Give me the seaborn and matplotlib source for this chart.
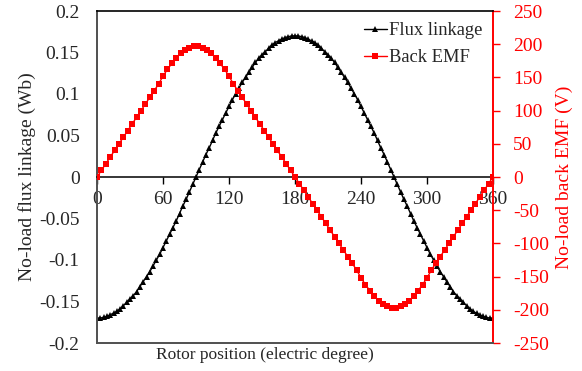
import matplotlib
matplotlib.use("Agg")
import matplotlib.pyplot as plt
import seaborn as sns
from matplotlib.ticker import FixedLocator, FuncFormatter
from matplotlib.lines import Line2D

# Rotor position samples (electric degrees)
flux_angle = list(range(0, 361, 3))
emf_angle = list(range(0, 361, 4))

# No-load flux linkage (Wb), sampled every 3 degrees
flux_linkage = [
    -0.170, -0.170, -0.169, -0.168, -0.166, -0.164, -0.162, -0.159, -0.155, -0.151,
    -0.147, -0.143, -0.138, -0.132, -0.126, -0.120, -0.114, -0.107, -0.100, -0.093,
    -0.085, -0.077, -0.069, -0.061, -0.053, -0.044, -0.035, -0.027, -0.018, -0.009,
    0.000, 0.009, 0.018, 0.027, 0.035, 0.044, 0.053, 0.061, 0.069, 0.077,
    0.085, 0.093, 0.100, 0.107, 0.114, 0.120, 0.126, 0.132, 0.138, 0.143,
    0.147, 0.151, 0.155, 0.159, 0.162, 0.164, 0.166, 0.168, 0.169, 0.170,
    0.170, 0.170, 0.169, 0.168, 0.166, 0.164, 0.162, 0.159, 0.155, 0.151,
    0.147, 0.143, 0.138, 0.132, 0.126, 0.120, 0.114, 0.107, 0.100, 0.093,
    0.085, 0.077, 0.069, 0.061, 0.053, 0.044, 0.035, 0.027, 0.018, 0.009,
    0.000, -0.009, -0.018, -0.027, -0.035, -0.044, -0.053, -0.061, -0.069, -0.077,
    -0.085, -0.093, -0.100, -0.107, -0.114, -0.120, -0.126, -0.132, -0.138, -0.143,
    -0.147, -0.151, -0.155, -0.159, -0.162, -0.164, -0.166, -0.168, -0.169, -0.170,
    -0.170,
]

# No-load back EMF (V), sampled every 4 degrees
back_emf = [
    0, 10, 20, 30, 40, 50, 60, 70, 80, 90,
    100, 110, 120, 130, 140, 152, 162, 171, 179, 186,
    191, 195, 197, 197, 195, 191, 186, 179, 171, 162,
    152, 140, 130, 120, 110, 100, 90, 80, 70, 60,
    50, 40, 30, 20, 10, 0,
    -10, -20, -30, -40, -50, -60, -70, -80, -90,
    -100, -110, -120, -130, -140, -152, -162, -171, -179, -186,
    -191, -195, -197, -197, -195, -191, -186, -179, -171, -162,
    -152, -140, -130, -120, -110, -100, -90, -80, -70, -60,
    -50, -40, -30, -20, -10, 0,
]

x_ticks = [0, 60, 120, 180, 240, 300, 360]
flux_ticks = [-0.2, -0.15, -0.1, -0.05, 0, 0.05, 0.1, 0.15, 0.2]
emf_ticks = [-250, -200, -150, -100, -50, 0, 50, 100, 150, 200, 250]

sns.set_theme(style="white")
plt.rcParams["font.family"] = ["Liberation Serif", "DejaVu Serif"]
plt.rcParams["axes.unicode_minus"] = False
FS = 14
RED = "#ff0000"
GREY = "#505050"

fig = plt.figure(figsize=(5.82, 3.71), dpi=100)
ax = fig.add_axes([97 / 582, 1 - 343 / 371, (493 - 97) / 582, (343 - 11) / 371])
ax2 = ax.twinx()

sns.lineplot(x=flux_angle, y=flux_linkage, ax=ax, color="black", marker="^",
             markersize=5, markeredgewidth=0, linewidth=1.0)
sns.lineplot(x=emf_angle, y=back_emf, ax=ax2, color=RED, marker="s",
             markersize=4.2, markeredgewidth=0, linewidth=1.0)

ax.set_xlim(0, 360)
ax.set_ylim(-0.2, 0.2)
ax2.set_ylim(-250, 250)

# Left axis: zero-line x axis, grey left spine, no tick marks
ax.spines["bottom"].set_position(("data", 0))
ax.spines["bottom"].set_color("black")
ax.spines["bottom"].set_linewidth(1.1)
ax.spines["left"].set_color(GREY)
ax.spines["left"].set_linewidth(1.4)
ax.spines["top"].set_visible(False)
ax.spines["right"].set_visible(False)
ax.xaxis.set_major_locator(FixedLocator(x_ticks))
ax.tick_params(axis="x", direction="out", length=5, width=1, color="black",
               labelsize=FS, pad=5, bottom=True)
ax.yaxis.set_major_locator(FixedLocator(flux_ticks))
ax.yaxis.set_major_formatter(FuncFormatter(lambda v, p: f"{v:g}"))
ax.tick_params(axis="y", length=0, labelsize=FS, pad=12.5)
ax.set_ylabel("No-load flux linkage (Wb)", fontsize=FS, labelpad=2)
ax.set_xlabel("")

# Right axis: red EMF scale plus the surrounding frame
ax2.spines["left"].set_visible(False)
ax2.spines["right"].set_color(RED)
ax2.spines["right"].set_linewidth(1.4)
ax2.spines["top"].set_color("black")
ax2.spines["top"].set_linewidth(1.2)
ax2.spines["bottom"].set_color(GREY)
ax2.spines["bottom"].set_linewidth(1.4)
ax2.yaxis.set_major_locator(FixedLocator(emf_ticks))
ax2.tick_params(axis="y", direction="out", length=5, width=1, color=RED,
                labelcolor=RED, labelsize=FS, pad=9.5, right=True)
ax2.set_ylabel("No-load back EMF (V)", fontsize=FS, color=RED, labelpad=5)

fig.text(265 / 582, 1 - 355 / 371, "Rotor position (electric degree)",
         fontsize=12.5, ha="center", va="center")

handles = [
    Line2D([], [], color="black", marker="^", markersize=5, markeredgewidth=0, linewidth=1.0),
    Line2D([], [], color=RED, marker="s", markersize=4.2, markeredgewidth=0, linewidth=1.0),
]
if ax.get_legend():
    ax.get_legend().remove()
if ax2.get_legend():
    ax2.get_legend().remove()
ax2.legend(handles, ["Flux linkage", "Back EMF"], loc="upper right",
           bbox_to_anchor=(1.0, 1.0), frameon=False, fontsize=13.3,
           handlelength=1.25, handletextpad=0.1, labelspacing=0.55,
           borderaxespad=0.3, borderpad=0.3, markerscale=1.0)

fig.savefig("out.png", dpi=100)
